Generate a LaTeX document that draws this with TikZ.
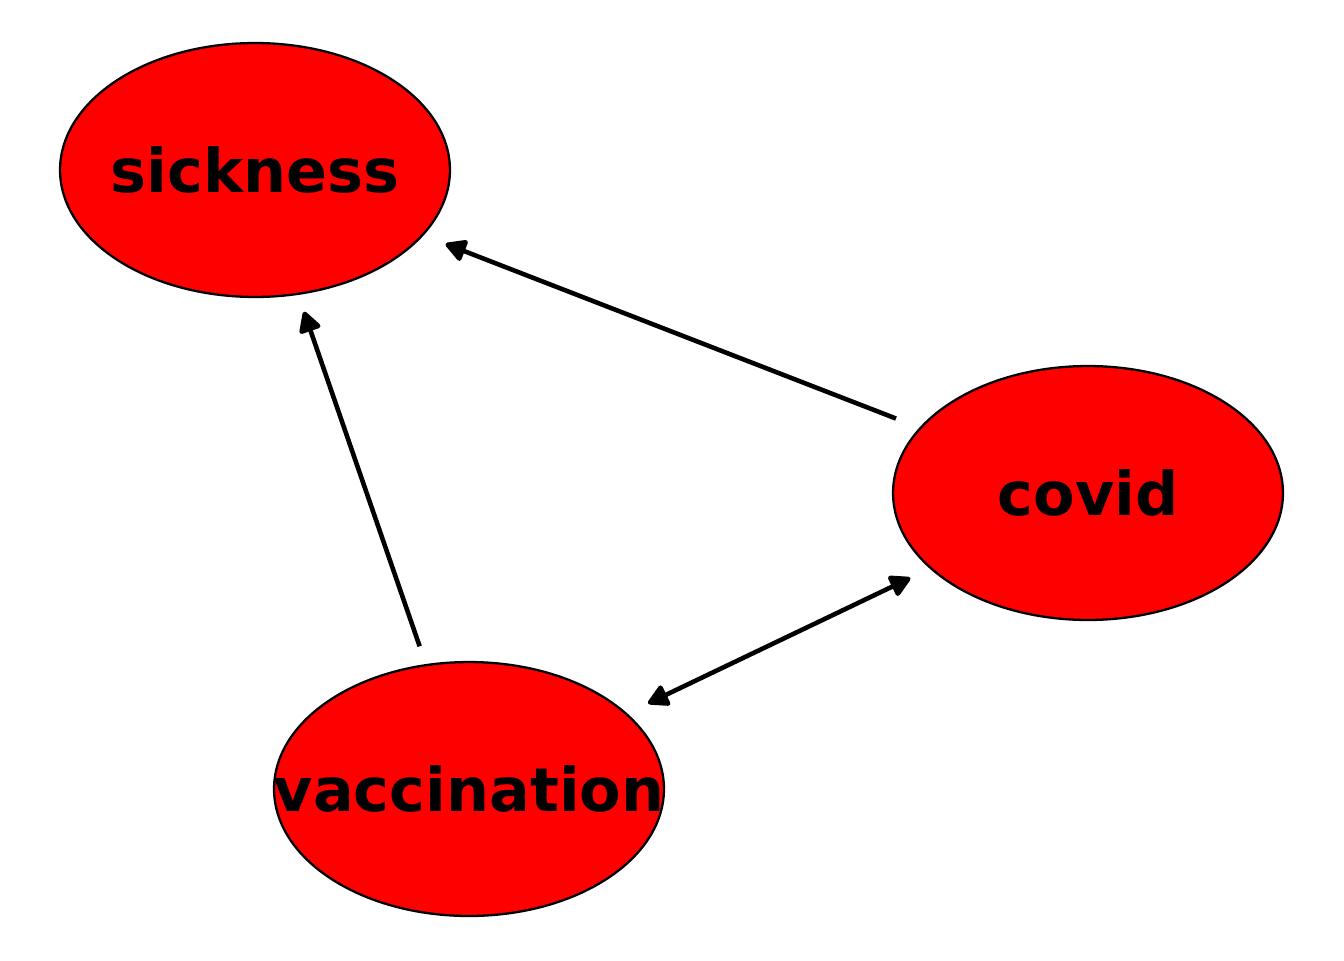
\documentclass[tikz,border=0pt]{standalone}
\usepackage{fontspec}
\setmainfont{DejaVu Sans}
\usetikzlibrary{shapes.geometric,arrows.meta}
\tikzset{
  vnode/.style={ellipse, draw=black, line width=1.3pt, fill=red,
    minimum width=7.8cm, minimum height=5.08cm, inner sep=0pt,
    font=\fontsize{34.4}{40}\selectfont\bfseries},
  tip/.tip={Triangle[length=0.46cm,width=0.48cm,round]},
  edge/.style={line width=2.6pt, line join=round, -tip},
  dedge/.style={line width=2.6pt, line join=round, tip-tip}
}
\begin{document}
\begin{tikzpicture}[x=0.02cm,y=-0.02cm]
\useasboundingbox (0,0) rectangle (1344,960);
\node[vnode] (sickness) at (255,170) {\makebox[0pt]{sickness}};
\node[vnode] (covid) at (1088,493) {\makebox[0pt]{covid}};
\node[vnode] (vaccination) at (469,789) {\makebox[0pt]{vaccination}};
\draw[edge, shorten <=4.12cm, shorten >=4.09cm] (covid.center) -- (sickness.center);
\draw[edge, shorten <=3.02cm, shorten >=3.0cm] (vaccination.center) -- (sickness.center);
\draw[dedge, shorten <=3.97cm, shorten >=3.94cm] (vaccination.center) -- (covid.center);
\end{tikzpicture}
\end{document}
